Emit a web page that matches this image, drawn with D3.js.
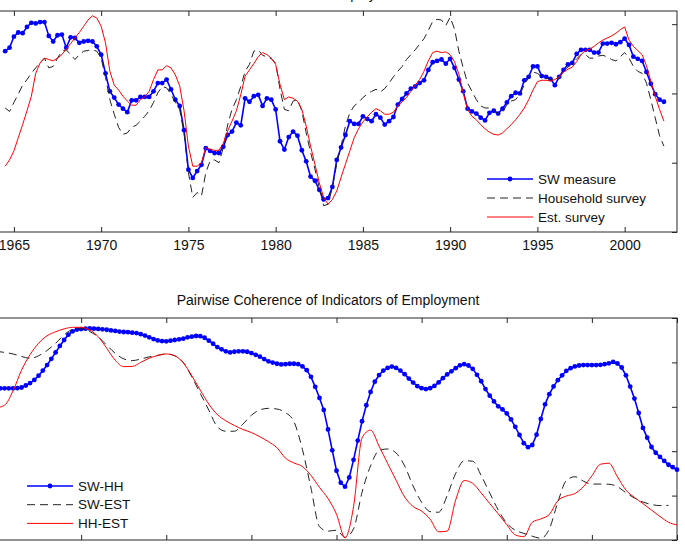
<!DOCTYPE html>
<html>
<head>
<meta charset="utf-8">
<script src="https://cdn.jsdelivr.net/npm/d3@7"></script>
<style>
  body { margin: 0; background: #fff; }
  svg { display: block; font-family: "Liberation Sans", Arial, sans-serif; }
</style>
</head>
<body>
<div id="chart"></div>
<script>
// ---- top panel: quarterly, starting 1964Q3 ----
const topStart = 1964.5;
const swMeasure = [
  0.61, 0.66,
  0.82, 0.88, 0.87, 0.96, 1.02, 1.01, 1.03, 1.03, 0.83, 0.75, 0.84, 0.85,
  0.66, 0.81, 0.80, 0.73, 0.75, 0.76, 0.75, 0.68, 0.56, 0.29, 0.03, -0.06,
  -0.16, -0.22, -0.27, -0.10, -0.10, -0.05, -0.05, -0.05, 0.03, 0.15, 0.15, 0.20,
  0.06, -0.09, -0.18, -0.53, -1.10, -1.22, -1.12, -1.03, -0.79, -0.83, -0.86, -0.86,
  -0.77, -0.60, -0.55, -0.42, -0.46, -0.07, -0.12, -0.04, -0.02, -0.18, -0.07, -0.09,
  -0.23, -0.69, -0.81, -0.63, -0.55, -0.61, -0.82, -0.98, -1.20, -1.26, -1.39, -1.53,
  -1.51, -1.35, -0.96, -0.78, -0.60, -0.40, -0.44, -0.44, -0.33, -0.37, -0.40, -0.30,
  -0.35, -0.45, -0.40, -0.34, -0.16, -0.08, 0.00, 0.07, 0.10, 0.15, 0.19, 0.34,
  0.45, 0.47, 0.49, 0.43, 0.50, 0.37, 0.20, 0.03, -0.22, -0.26, -0.29, -0.35,
  -0.39, -0.28, -0.25, -0.29, -0.22, -0.13, -0.04, 0.01, 0.00, 0.19, 0.24, 0.39,
  0.39, 0.25, 0.24, 0.21, 0.12, 0.24, 0.34, 0.42, 0.44, 0.57, 0.63, 0.63,
  0.63, 0.59, 0.59, 0.72, 0.72, 0.73, 0.71, 0.74, 0.79, 0.70, 0.53, 0.50,
  0.47, 0.31, 0.14, -0.01, -0.09, -0.12
];
const householdSurvey = [
  -0.21, -0.26,
  -0.13, -0.01, 0.12, 0.20, 0.29, 0.37, 0.44, 0.51, 0.37, 0.39, 0.51, 0.61,
  0.63, 0.56, 0.49, 0.56, 0.61, 0.62, 0.63, 0.61, 0.51, 0.23, -0.09, -0.30,
  -0.49, -0.59, -0.57, -0.49, -0.46, -0.40, -0.33, -0.25, -0.13, 0.01, 0.10, 0.08,
  -0.01, -0.13, -0.23, -0.57, -1.14, -1.50, -1.43, -1.48, -1.14, -0.97, -0.96, -1.00,
  -0.78, -0.45, -0.23, -0.09, 0.10, 0.32, 0.42, 0.61, 0.63, 0.55, 0.53, 0.50,
  0.44, 0.06, -0.23, -0.25, -0.11, -0.09, -0.25, -0.57, -0.85, -1.09, -1.36, -1.62,
  -1.60, -1.36, -1.02, -0.76, -0.47, -0.28, -0.18, -0.13, -0.06, -0.01, 0.03, 0.06,
  0.02, 0.07, 0.15, 0.24, 0.32, 0.39, 0.49, 0.56, 0.63, 0.71, 0.79, 0.91,
  1.04, 1.07, 1.06, 0.98, 1.10, 0.93, 0.61, 0.37, 0.15, 0.03, -0.09, -0.18,
  -0.21, -0.21, -0.23, -0.30, -0.28, -0.16, -0.11, -0.09, -0.01, 0.12, 0.23, 0.31,
  0.29, 0.24, 0.22, 0.20, 0.19, 0.23, 0.31, 0.38, 0.43, 0.50, 0.56, 0.56,
  0.51, 0.51, 0.54, 0.55, 0.53, 0.49, 0.47, 0.53, 0.59, 0.51, 0.39, 0.32,
  0.29, 0.15, -0.09, -0.35, -0.61, -0.76
];
const estSurvey = [
  -1.05, -0.96,
  -0.83, -0.64, -0.45, -0.25, -0.04, 0.29, 0.44, 0.51, 0.49, 0.47, 0.51, 0.56,
  0.64, 0.72, 0.80, 0.88, 0.97, 1.06, 1.12, 1.09, 0.97, 0.73, 0.32, 0.12,
  0.05, -0.04, -0.11, -0.17, -0.17, -0.09, -0.05, 0.03, 0.20, 0.34, 0.34, 0.40,
  0.37, 0.27, 0.11, -0.25, -0.76, -1.05, -1.05, -1.00, -0.78, -0.81, -0.82, -0.82,
  -0.72, -0.54, -0.40, -0.25, -0.02, 0.25, 0.34, 0.43, 0.53, 0.59, 0.56, 0.51,
  0.42, 0.13, -0.09, -0.05, -0.07, -0.11, -0.23, -0.47, -0.76, -1.02, -1.29, -1.50,
  -1.60, -1.53, -1.41, -1.21, -1.02, -0.83, -0.64, -0.51, -0.41, -0.34, -0.27, -0.22,
  -0.25, -0.30, -0.30, -0.27, -0.18, -0.12, -0.06, 0.03, 0.12, 0.20, 0.32, 0.47,
  0.59, 0.61, 0.59, 0.60, 0.56, 0.46, 0.28, 0.01, -0.23, -0.33, -0.38, -0.45,
  -0.51, -0.56, -0.59, -0.60, -0.57, -0.51, -0.45, -0.38, -0.30, -0.21, -0.09, 0.05,
  0.17, 0.19, 0.19, 0.18, 0.20, 0.24, 0.31, 0.35, 0.38, 0.46, 0.56, 0.62,
  0.64, 0.68, 0.73, 0.77, 0.80, 0.83, 0.87, 0.92, 0.96, 0.77, 0.68, 0.62,
  0.56, 0.40, 0.18, -0.04, -0.23, -0.40
];
const topTicksX = [1965, 1970, 1975, 1980, 1985, 1990, 1995, 2000];
const topTicksY = [-2, -1, 0, 1];
const topLegend = ["SW measure", "Household survey", "Est. survey"];

// ---- bottom panel: pairwise coherence ----
const swHHStart = 1960.25; // quarterly
const swHH = [
  0.683, 0.683, 0.683, 0.683, 0.684, 0.687, 0.696, 0.707, 0.721, 0.740,
  0.763, 0.788, 0.816, 0.845, 0.874, 0.901, 0.925, 0.940, 0.948, 0.950,
  0.952, 0.953, 0.952, 0.951, 0.949, 0.947, 0.944, 0.942, 0.939, 0.937,
  0.936, 0.934, 0.932, 0.927, 0.921, 0.913, 0.905, 0.899, 0.896, 0.895,
  0.898, 0.901, 0.904, 0.907, 0.913, 0.916, 0.919, 0.918, 0.911, 0.898,
  0.884, 0.869, 0.859, 0.850, 0.845, 0.848, 0.850, 0.850, 0.848, 0.842,
  0.834, 0.826, 0.815, 0.805, 0.799, 0.794, 0.791, 0.792, 0.794, 0.794,
  0.792, 0.782, 0.765, 0.735, 0.690, 0.640, 0.586, 0.498, 0.404, 0.312,
  0.258, 0.240, 0.282, 0.361, 0.448, 0.535, 0.607, 0.667, 0.713, 0.743,
  0.763, 0.775, 0.781, 0.775, 0.763, 0.747, 0.727, 0.709, 0.693, 0.684,
  0.680, 0.684, 0.694, 0.710, 0.729, 0.746, 0.760, 0.774, 0.787, 0.792,
  0.786, 0.771, 0.744, 0.715, 0.680, 0.650, 0.624, 0.602, 0.588, 0.570,
  0.543, 0.510, 0.473, 0.436, 0.418, 0.428, 0.474, 0.545, 0.611, 0.657,
  0.692, 0.720, 0.742, 0.762, 0.774, 0.782, 0.786, 0.788, 0.788, 0.788,
  0.788, 0.789, 0.792, 0.796, 0.802, 0.795, 0.777, 0.742, 0.691, 0.637,
  0.572, 0.505, 0.461, 0.419, 0.393, 0.374, 0.356, 0.339, 0.328, 0.317
];
const smoothStart = 1960; // half-yearly
const swEST = [
  0.850, 0.845, 0.838, 0.827, 0.818, 0.830, 0.854, 0.886, 0.924, 0.948,
  0.952, 0.939, 0.915, 0.878, 0.841, 0.816, 0.808, 0.815, 0.825, 0.832,
  0.838, 0.830, 0.800, 0.735, 0.660, 0.585, 0.510, 0.490, 0.490, 0.522,
  0.562, 0.586, 0.593, 0.590, 0.574, 0.533, 0.407, 0.234, 0.060, 0.040,
  0.044, 0.012, 0.050, 0.215, 0.334, 0.403, 0.410, 0.392, 0.334, 0.243,
  0.170, 0.128, 0.125, 0.200, 0.300, 0.357, 0.355, 0.290, 0.212, 0.135,
  0.076, 0.044, 0.030, 0.017, 0.008, 0.050, 0.170, 0.268, 0.285, 0.265,
  0.252, 0.252, 0.251, 0.240, 0.213, 0.189, 0.171, 0.160, 0.155, 0.156
];
const hhEST = [
  0.595, 0.607, 0.672, 0.765, 0.835, 0.886, 0.920, 0.938, 0.951, 0.958,
  0.958, 0.946, 0.916, 0.864, 0.810, 0.781, 0.782, 0.800, 0.819, 0.831,
  0.838, 0.830, 0.798, 0.740, 0.675, 0.612, 0.565, 0.537, 0.516, 0.498,
  0.484, 0.465, 0.443, 0.416, 0.369, 0.347, 0.331, 0.291, 0.237, 0.187,
  0.116, 0.010, 0.150, 0.460, 0.495, 0.423, 0.345, 0.269, 0.194, 0.151,
  0.130, 0.094, 0.037, 0.040, 0.180, 0.268, 0.255, 0.212, 0.164, 0.118,
  0.069, 0.023, 0.015, 0.080, 0.095, 0.115, 0.177, 0.198, 0.209, 0.240,
  0.289, 0.341, 0.346, 0.285, 0.225, 0.192, 0.164, 0.135, 0.106, 0.080,
  0.068
];
const cohTicksX = [1960, 1965, 1970, 1975, 1980, 1985, 1990, 1995, 2000];
const cohTicksY = [0, 0.2, 0.4, 0.6, 0.8, 1];
const cohLegend = ["SW-HH", "SW-EST", "HH-EST"];

const W = 685, H = 545;
const BLUE = "#0000ff", RED = "#ff0000", DASH = "#222";
const AXIS = "#262626";

const svg = d3.select("#chart").append("svg")
  .attr("width", W)
  .attr("height", H);

function toPoints(start, step, values) {
  return values.map((v, i) => [start + i * step, v]);
}

function drawPanel(cfg) {
  const x = d3.scaleLinear().domain(cfg.xDomain).range([cfg.left, cfg.right]);
  const y = d3.scaleLinear().domain(cfg.yDomain).range([cfg.bottom, cfg.top]);
  const g = svg.append("g");

  // ticks pointing inward, MATLAB-like
  g.append("g")
    .attr("transform", "translate(0," + cfg.bottom + ")")
    .call(d3.axisBottom(x).tickValues(cfg.ticksX).tickSize(-5).tickSizeOuter(0)
      .tickPadding(8).tickFormat(cfg.showXLabels ? d3.format("d") : ""))
    .call(ax => ax.select(".domain").remove());
  g.append("g")
    .attr("transform", "translate(0," + cfg.top + ")")
    .call(d3.axisTop(x).tickValues(cfg.ticksX).tickSize(-5).tickSizeOuter(0).tickFormat(""))
    .call(ax => ax.select(".domain").remove());
  g.append("g")
    .attr("transform", "translate(" + cfg.left + ",0)")
    .call(d3.axisLeft(y).tickValues(cfg.ticksY).tickSize(-5).tickSizeOuter(0).tickFormat(""))
    .call(ax => ax.select(".domain").remove());
  g.append("g")
    .attr("transform", "translate(" + cfg.right + ",0)")
    .call(d3.axisRight(y).tickValues(cfg.ticksY).tickSize(-5).tickSizeOuter(0).tickFormat(""))
    .call(ax => ax.select(".domain").remove());

  g.selectAll(".tick line").attr("stroke", AXIS);
  g.selectAll(".tick text")
    .attr("fill", "#111")
    .style("font-size", "14px")
    .style("font-family", "'Liberation Sans', Arial, sans-serif");

  g.append("rect")
    .attr("x", cfg.left)
    .attr("y", cfg.top)
    .attr("width", cfg.right - cfg.left)
    .attr("height", cfg.bottom - cfg.top)
    .attr("fill", "none")
    .attr("stroke", AXIS)
    .attr("stroke-width", 1);

  g.append("text")
    .attr("x", (cfg.left + cfg.right) / 2)
    .attr("y", cfg.titleY)
    .attr("text-anchor", "middle")
    .style("font-size", "14px")
    .attr("fill", "#111")
    .text(cfg.title);

  const line = d3.line().x(d => x(d[0])).y(d => y(d[1]));

  cfg.series.forEach(s => {
    g.append("path")
      .datum(s.points)
      .attr("fill", "none")
      .attr("stroke", s.color)
      .attr("stroke-width", s.width)
      .attr("stroke-dasharray", s.dash || null)
      .attr("d", line.curve(s.curve || d3.curveLinear));
    if (s.marker) {
      g.selectAll(null)
        .data(s.points)
        .enter()
        .append("circle")
        .attr("cx", d => x(d[0]))
        .attr("cy", d => y(d[1]))
        .attr("r", 2.4)
        .attr("fill", s.color);
    }
  });

  // legend
  const lg = g.append("g").attr("transform", "translate(" + cfg.legend.x + "," + cfg.legend.y + ")");
  cfg.series.forEach((s, i) => {
    const row = lg.append("g").attr("transform", "translate(0," + i * cfg.legend.gap + ")");
    row.append("line")
      .attr("x1", 0).attr("x2", 46)
      .attr("stroke", s.color)
      .attr("stroke-width", s.width)
      .attr("stroke-dasharray", s.dash || null);
    if (s.marker) {
      row.append("circle").attr("cx", 23).attr("r", 2.4).attr("fill", s.color);
    }
    row.append("text")
      .attr("x", 51)
      .attr("dy", "0.35em")
      .style("font-size", "13.5px")
      .attr("fill", "#111")
      .text(cfg.legend.labels[i]);
  });
}

drawPanel({
  left: -21, right: 677, top: 11, bottom: 232,
  xDomain: [1963, 2003], yDomain: [-2, 1.19],
  ticksX: topTicksX, ticksY: topTicksY, showXLabels: true,
  title: "Indicators of Employment", titleY: -1,
  series: [
    { points: toPoints(topStart, 0.25, swMeasure), color: BLUE, width: 1.6, marker: true },
    { points: toPoints(topStart, 0.25, householdSurvey), color: DASH, width: 1, dash: "8,5" },
    { points: toPoints(topStart, 0.25, estSurvey), color: RED, width: 1 }
  ],
  legend: { x: 487, y: 179, gap: 19, labels: topLegend }
});

drawPanel({
  left: -21, right: 677, top: 318, bottom: 540,
  xDomain: [1959, 2000], yDomain: [0, 1],
  ticksX: cohTicksX, ticksY: cohTicksY, showXLabels: false,
  title: "Pairwise Coherence of Indicators of Employment", titleY: 305,
  series: [
    { points: toPoints(swHHStart, 0.25, swHH), color: BLUE, width: 1.6, marker: true },
    { points: toPoints(smoothStart, 0.5, swEST), color: DASH, width: 1, dash: "8,5", curve: d3.curveMonotoneX },
    { points: toPoints(smoothStart, 0.5, hhEST), color: RED, width: 1, curve: d3.curveMonotoneX }
  ],
  legend: { x: 27, y: 486, gap: 18.7, labels: cohLegend }
});
</script>
</body>
</html>
